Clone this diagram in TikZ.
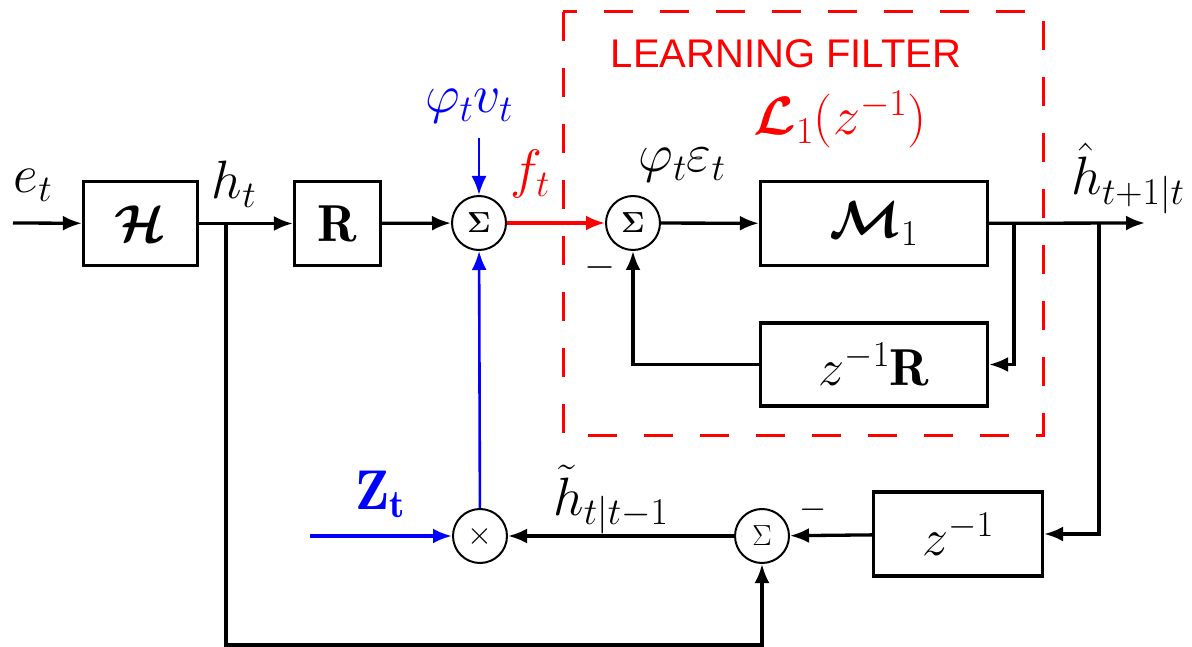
\RequirePackage{fix-cm}
\documentclass[tikz,border=0pt]{standalone}
\usepackage{amsmath,bm}
\usepackage{fontspec}
\newfontfamily\lfont{Liberation Sans}
\usetikzlibrary{arrows.meta}
\begin{document}
\begin{tikzpicture}[x=1pt,y=-1pt,
  blk/.style={draw, line width=3.2pt, inner sep=0pt, font=\fontsize{52}{56}\selectfont},
  sumc/.style={draw, circle, line width=2pt, minimum size=54pt, inner sep=0pt, font=\fontsize{29}{30}\selectfont},
  con/.style={line width=3.3pt, -{Latex[length=19pt,width=15pt]}},
  lbl/.style={inner sep=0pt, anchor=base, font=\fontsize{54}{58}\selectfont},
  minus/.style={inner sep=0pt, font=\fontsize{40}{42}\selectfont},
]
\useasboundingbox (0,0) rectangle (1192,647);

% blocks
\node[blk, minimum width=114pt, minimum height=84pt] (H) at (140.5,223.5) {$\boldsymbol{\mathcal{H}}$};
\node[blk, minimum width=86pt, minimum height=84pt] (R) at (337.5,223.5) {$\mathbf{R}$};
\node[sumc] (S1) at (479,223) {$\boldsymbol{\Sigma}$};
\node[sumc] (S2) at (633,223) {$\boldsymbol{\Sigma}$};
\node[blk, minimum width=227pt, minimum height=84pt] (M1) at (874,223.5) {$\boldsymbol{\mathcal{M}}_1$};
\node[blk, minimum width=227pt, minimum height=83pt] (zR) at (874,364.5) {$z^{-1}\mathbf{R}$};
\node[blk, minimum width=169pt, minimum height=84pt] (z1) at (958,534) {$z^{-1}$};
\node[sumc] (S3) at (762,536) {$\Sigma$};
\node[sumc, font=\fontsize{32}{34}\selectfont] (X) at (480,536) {$\times$};

% points
\coordinate (in) at (13,223);
\coordinate (b1) at (226,223);
\coordinate (bot) at (226,645);
\coordinate (out) at (1145,223);
\coordinate (b2) at (1014,223);
\coordinate (b3) at (1099,223);
\coordinate (vtop) at (479,138);
\coordinate (zin) at (310,536);

% learning filter box
\draw[red, line width=3pt, dash pattern=on 29pt off 27pt] (563,12) rectangle (1043,435);

% connectors
\draw[con] (in) -- (H);
\draw[con] (H) -- (R);
\draw[con] (b1) -- (bot) -| (S3);
\draw[con] (R) -- (S1);
\draw[con, blue, line width=2.6pt] (vtop) -- (S1);
\draw[con, red] (S1) -- (S2);
\draw[con] (S2) -- (M1);
\draw[con] (M1) -- (out);
\draw[con] (b2) |- (zR);
\draw[con] (zR) -| (S2);
\draw[con] (b3) |- (z1);
\draw[con] (z1) -- (S3);
\draw[con] (S3) -- (X);
\draw[con, blue] (zin) -- (X);
\draw[con, blue, line width=2.6pt] (X) -- (S1);

% labels
\node[lbl] (let) at (33,193) {$e_t$};
\node[lbl] (lht) at (234,199) {$h_t$};
\node[lbl, blue] (lpv) at (469,113) {$\varphi_t v_t$};
\node[lbl, red] (lft) at (530,188) {$f_t$};
\node[lbl] (lpe) at (682,172) {$\varphi_t\varepsilon_t$};
\node[minus] (lm1) at (600,268) {$-$};
\node[lbl] (lhh) at (1128,195) {$\hat h_{t+1|t}$};
\node[red, inner sep=0pt, font=\lfont\fontsize{40}{42}\selectfont] (llf) at (786,54) {LEARNING FILTER};
\node[lbl, red] (lL) at (840,135) {$\boldsymbol{\mathcal{L}}_1(z^{-1})$};
\node[lbl, blue, font=\fontsize{56}{60}\selectfont] (lZ) at (380,509) {$\mathbf{Z_t}$};
\node[lbl] (lht2) at (611,515) {$\tilde h_{t|t-1}$};
\node[minus, font=\fontsize{35}{36}\selectfont] (lm2) at (813,510) {$-$};
\end{tikzpicture}
\end{document}
